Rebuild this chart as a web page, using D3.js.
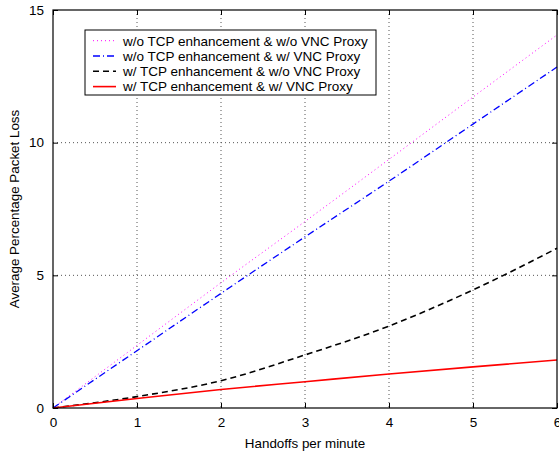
<!DOCTYPE html>
<html>
<head>
<meta charset="utf-8">
<script src="https://cdn.jsdelivr.net/npm/d3@7"></script>
<style>
  body { margin: 0; background: #fff; }
  svg { display: block; font-family: "Liberation Sans", Arial, sans-serif; }
</style>
</head>
<body>
<svg id="chart" width="559" height="457"></svg>
<script>
// handoff rates (x) and packet loss per series
const handoffs = [0, 1, 2, 3, 4, 5, 6];
const noTcpNoProxy = [0, 2.36, 4.72, 7.03, 9.37, 11.72, 14.06];
const noTcpProxy = [0, 2.16, 4.32, 6.45, 8.55, 10.7, 12.85];
const tcpNoProxy = [0, 0.43, 1.03, 2.0, 3.09, 4.45, 6.02];
const tcpProxy = [0, 0.36, 0.70, 0.99, 1.28, 1.55, 1.81];
const seriesNames = [
  "w/o TCP enhancement & w/o VNC Proxy",
  "w/o TCP enhancement & w/ VNC Proxy",
  "w/ TCP enhancement & w/o VNC Proxy",
  "w/ TCP enhancement & w/ VNC Proxy"
];
const xTicks = [0, 1, 2, 3, 4, 5, 6];
const yTicks = [0, 5, 10, 15];

const styles = [
  { color: "#ff00ff", width: 1, dash: "1,3" },
  { color: "#0000ff", width: 1.3, dash: "7,3,1,3" },
  { color: "#000000", width: 1.6, dash: "6,4" },
  { color: "#ff0000", width: 1.6, dash: null }
];

const svg = d3.select("#chart");
const pLeft = 53, pRight = 557, pTop = 10, pBottom = 408;

const x = d3.scaleLinear().domain([0, 6]).range([pLeft, pRight]);
const y = d3.scaleLinear().domain([0, 15]).range([pBottom, pTop]);

// grid
const grid = svg.append("g");
xTicks.slice(1, -1).forEach(t => {
  grid.append("line")
    .attr("x1", x(t)).attr("x2", x(t))
    .attr("y1", pTop).attr("y2", pBottom)
    .attr("stroke", "#555").attr("stroke-width", 1)
    .attr("stroke-dasharray", "1,3");
});
yTicks.slice(1, -1).forEach(t => {
  grid.append("line")
    .attr("x1", pLeft).attr("x2", pRight)
    .attr("y1", y(t)).attr("y2", y(t))
    .attr("stroke", "#555").attr("stroke-width", 1)
    .attr("stroke-dasharray", "1,3");
});

// data lines
const allSeries = [noTcpNoProxy, noTcpProxy, tcpNoProxy, tcpProxy];
const line = d3.line()
  .x((d, i) => x(handoffs[i]))
  .y(d => y(d))
  .curve(d3.curveMonotoneX);
allSeries.forEach((s, i) => {
  svg.append("path")
    .datum(s)
    .attr("d", line)
    .attr("fill", "none")
    .attr("stroke", styles[i].color)
    .attr("stroke-width", styles[i].width)
    .attr("stroke-dasharray", styles[i].dash);
});

// axes with inward ticks, box style
const fmt = d3.format("d");
svg.append("g")
  .attr("transform", `translate(0,${pBottom})`)
  .call(d3.axisBottom(x).tickValues(xTicks).tickFormat(fmt).tickSizeInner(-5).tickSizeOuter(0).tickPadding(9))
  .call(g => g.select(".domain").remove())
  .call(g => g.selectAll("text").style("font-size", "13.5px").attr("fill", "#000"));

svg.append("g")
  .attr("transform", `translate(0,${pTop})`)
  .call(d3.axisTop(x).tickValues(xTicks).tickSizeInner(-5).tickSizeOuter(0).tickFormat(""))
  .call(g => g.select(".domain").remove());

svg.append("g")
  .attr("transform", `translate(${pLeft},0)`)
  .call(d3.axisLeft(y).tickValues(yTicks).tickFormat(fmt).tickSizeInner(-5).tickSizeOuter(0).tickPadding(9))
  .call(g => g.select(".domain").remove())
  .call(g => g.selectAll("text").style("font-size", "13.5px").attr("fill", "#000"));

svg.append("g")
  .attr("transform", `translate(${pRight},0)`)
  .call(d3.axisRight(y).tickValues(yTicks).tickSizeInner(-5).tickSizeOuter(0).tickFormat(""))
  .call(g => g.select(".domain").remove());

svg.append("rect")
  .attr("x", pLeft).attr("y", pTop)
  .attr("width", pRight - pLeft).attr("height", pBottom - pTop)
  .attr("fill", "none").attr("stroke", "#000").attr("stroke-width", 1.2);

// axis labels
svg.append("text")
  .attr("x", (pLeft + pRight) / 2).attr("y", 448)
  .attr("text-anchor", "middle")
  .style("font-size", "13.4px")
  .text("Handoffs per minute");

svg.append("text")
  .attr("transform", `translate(19,${(pTop + pBottom) / 2}) rotate(-90)`)
  .attr("text-anchor", "middle")
  .style("font-size", "13.4px")
  .text("Average Percentage Packet Loss");

// legend
const legend = svg.append("g");
legend.append("rect")
  .attr("x", 85).attr("y", 30)
  .attr("width", 291).attr("height", 65)
  .attr("fill", "#fff").attr("stroke", "#000").attr("stroke-width", 1);

seriesNames.forEach((name, i) => {
  const ly = 40.7 + i * 15.3;
  legend.append("line")
    .attr("x1", 93).attr("x2", 116)
    .attr("y1", ly).attr("y2", ly)
    .attr("stroke", styles[i].color)
    .attr("stroke-width", styles[i].width)
    .attr("stroke-dasharray", styles[i].dash);
  legend.append("text")
    .attr("x", 123).attr("y", ly + 4.8)
    .style("font-size", "13.5px")
    .text(name);
});
</script>
</body>
</html>
